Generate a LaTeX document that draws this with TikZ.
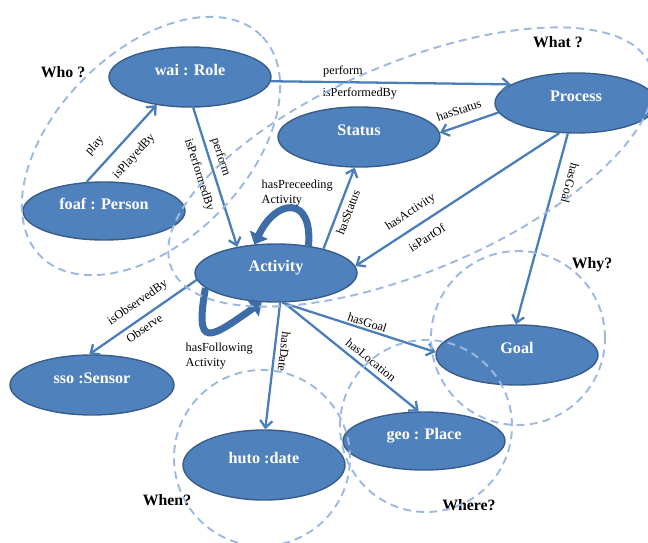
\documentclass[tikz,border=0pt]{standalone}
\usepackage{fontspec}
\setmainfont{Liberation Serif}
\usetikzlibrary{shapes.geometric,arrows.meta}

\definecolor{nodefill}{HTML}{4F81BD}
\definecolor{nodeline}{HTML}{385D8A}
\definecolor{edgeblue}{HTML}{4A7EBB}
\definecolor{loopblue}{HTML}{3D6CA6}
\definecolor{zoneblue}{HTML}{9DB8E2}

\begin{document}
\begin{tikzpicture}[>={Straight Barb[length=4pt,width=7pt]},
  concept/.style={ellipse,draw=nodeline,fill=nodefill,line width=0.8pt,
    minimum width=3.24cm,minimum height=1.2cm,inner sep=0pt,
    text=white,font=\fontsize{9.2}{11}\selectfont\bfseries,
    text height=0.3cm,text depth=0.36cm},
  rel/.style={->,draw=edgeblue,line width=1.3pt},
  lbl/.style={font=\fontsize{7}{8.5}\selectfont,text=black,inner sep=2.5pt},
  selfloop/.style={-{Triangle[length=6pt,width=11pt]},draw=loopblue,line width=4pt},
  question/.style={font=\fontsize{9}{10}\selectfont\bfseries},
  zone/.style={draw=zoneblue,line width=1.1pt,dash pattern=on 4.5pt off 3pt}]

\useasboundingbox (0,0) rectangle (12.96,-10.86);
\clip (0,0) rectangle (12.96,-10.86);

% Klassen
\node[concept] (role)   at (3.80,-1.54)  {wai : Role};
\node[concept,minimum height=1.16cm] (person) at (2.08,-4.22) {foaf : Person};
\node[concept] (status) at (7.18,-2.74)  {Status};
\node[concept] (proc)   at (11.52,-2.06) {Process};
\node[concept,minimum height=1.16cm] (act) at (5.52,-5.46) {Activity};
\node[concept,minimum width=3.28cm] (sensor) at (1.84,-7.70) {sso :Sensor};
\node[concept,minimum height=1.4cm] (date) at (5.28,-9.30) {huto :date};
\node[concept] (goal)   at (10.34,-7.10) {Goal};
\node[concept,minimum height=1.16cm] (place) at (8.48,-8.82) {geo : Place};

% Relationen
\draw[rel] (person.121) -- (role.220)
  node[lbl,pos=0.31,sloped,above=4pt] {play}
  node[lbl,pos=0.49,sloped,below=4pt] {isPlayedBy};
\draw[rel] (role.-84) -- (act.146)
  node[lbl,pos=0.38,sloped,above] {perform}
  node[lbl,pos=0.45,sloped,below=2pt] {isPerformedBy};
\draw[rel] (role.-3) -- (proc.164)
  node[lbl,pos=0.3,above] {perform}
  node[lbl,pos=0.37,below] {isPerformedBy};
\draw[rel] (proc.187) -- (status.3)
  node[lbl,pos=0.59,sloped,above=3pt] {hasStatus};
\draw[rel] (act.27) -- (status.-98)
  node[lbl,pos=0.49,sloped,below] {hasStatus};
\draw[rel] (proc.241) -- (act.5)
  node[lbl,pos=0.69,sloped,above=2pt] {hasActivity}
  node[lbl,pos=0.69,sloped,below=3pt] {isPartOf};
\draw[rel] (proc.255) -- (goal.92)
  node[lbl,pos=0.24,sloped,allow upside down,above=3pt] {hasGoal};
\draw[rel] (act.185) -- (sensor.95)
  node[lbl,pos=0.47,sloped,above=2pt] {isObservedBy}
  node[lbl,pos=0.54,sloped,below] {Observe};
\draw[rel] (act.-82) -- (date.88)
  node[lbl,pos=0.38,sloped,allow upside down,above] {hasDate};
\draw[rel] (act.-78) -- (goal.178)
  node[lbl,pos=0.54,sloped,above,inner sep=1pt] {hasGoal};
\draw[rel] (act.-75) -- (place.100)
  node[lbl,pos=0.6,sloped,above] {hasLocation};

% Schleifen an Activity
\draw[selfloop] (act.40) to[out=85,in=65,looseness=2.4] (act.127);
\draw[selfloop] (act.192) to[out=260,in=215,looseness=2.8] (act.244);
\node[lbl,align=left,anchor=west] (prec) at (5.14,-3.86) {hasPreceeding\\Activity};
\node[lbl,align=left,anchor=west] (foll) at (3.62,-7.12) {hasFollowing\\Activity};

% Fragen
\node[question] (who)   at (1.26,-1.44)  {Who ?};
\node[question] (what)  at (11.16,-0.84) {What ?};
\node[question] (why)   at (11.84,-5.30) {Why?};
\node[question] (when)  at (3.34,-10.00) {When?};
\node[question] (where) at (9.38,-10.10) {Where?};

% Bereiche
\draw[zone,shift={(3.02,-2.92)},rotate=45] (0,0) ellipse (3.12 and 1.90);
\draw[zone,shift={(8.22,-3.34)},rotate=23] (0,0) ellipse (5.2 and 2.08);
\draw[zone] (10.36,-6.76) circle (1.74);
\draw[zone] (8.52,-8.52) circle (1.72);
\draw[zone] (5.24,-9.16) circle (1.76);

\end{tikzpicture}
\end{document}
